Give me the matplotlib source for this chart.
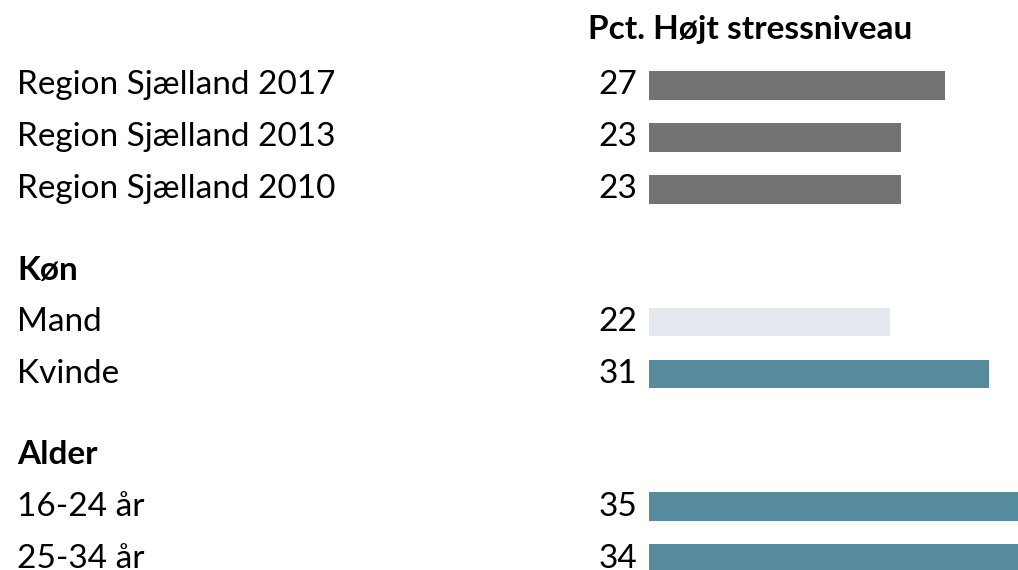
import matplotlib.pyplot as plt

plt.rcParams['font.family'] = ['Lato', 'DejaVu Sans']

# data
title = 'Pct. Højt stressniveau'
group_headers = [None, 'Køn', 'Alder']
group_labels = [
    ['Region Sjælland 2017', 'Region Sjælland 2013', 'Region Sjælland 2010'],
    ['Mand', 'Kvinde'],
    ['16-24 år', '25-34 år'],
]
group_values = [
    [27, 23, 23],
    [22, 31],
    [35, 34],
]
group_colors = [
    ['#737373', '#737373', '#737373'],
    ['#e4e8ef', '#568a9d'],
    ['#568a9d', '#568a9d'],
]

W, H = 1018, 570
fig = plt.figure(figsize=(W / 100, H / 100), dpi=100)

# axes for bars: starts at bar base, runs to the right edge (bars get clipped)
x0 = 648.7
px_per_unit = 10.98
row_px = 52.0
first_row_px = 85.5
ax = fig.add_axes([x0 / W, 0, 1 - x0 / W, 1])
ax.set_xlim(0, (W - x0) / px_per_unit)
ax.set_ylim((H - first_row_px) / row_px, -first_row_px / row_px)
ax.axis('off')

fs = 24
r = 0.0
for gi, (hdr, labels, vals, cols) in enumerate(zip(group_headers, group_labels, group_values, group_colors)):
    if hdr is not None:
        r += 0.55
        ax.text(-x0 / px_per_unit + 17 / px_per_unit, r, hdr, fontsize=fs, fontweight='bold',
                va='center', ha='left', clip_on=False)
        r += 1
    for lab, v, c in zip(labels, vals, cols):
        ax.barh(r, v, height=0.55, color=c, left=0)
        ax.text(-x0 / px_per_unit + 17 / px_per_unit, r, lab, fontsize=fs, va='center', ha='left', clip_on=False)
        ax.text(-11 / px_per_unit, r, str(v), fontsize=fs, va='center', ha='right', clip_on=False)
        r += 1

fig.text(750 / W, 1 - 30 / H, title, fontsize=fs, fontweight='bold', ha='center', va='center')

fig.savefig('out.png', dpi=100)
